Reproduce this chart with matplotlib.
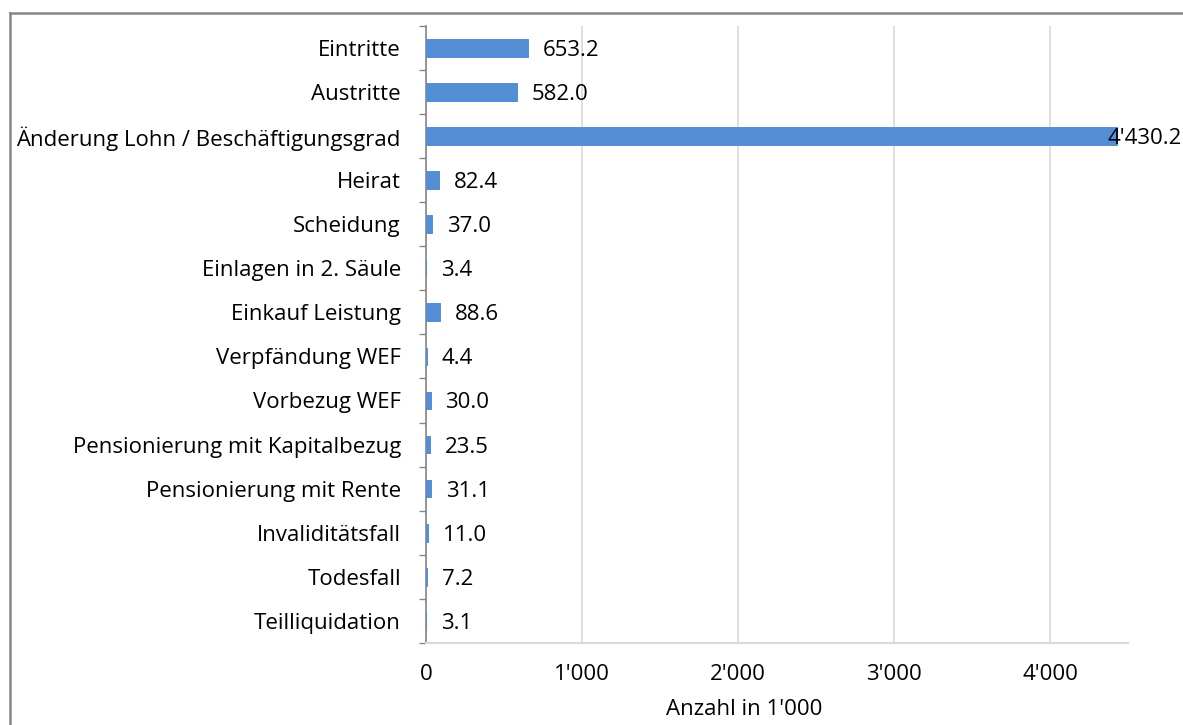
import matplotlib
matplotlib.use("Agg")
import matplotlib.pyplot as plt
from matplotlib.lines import Line2D
from matplotlib.ticker import FuncFormatter, FixedLocator
import numpy as np

# ── data ──────────────────────────────────────────────────────────────
categories = [
    "Eintritte", "Austritte", "Änderung Lohn / Beschäftigungsgrad", "Heirat",
    "Scheidung", "Einlagen in 2. Säule", "Einkauf Leistung", "Verpfändung WEF",
    "Vorbezug WEF", "Pensionierung mit Kapitalbezug", "Pensionierung mit Rente",
    "Invaliditätsfall", "Todesfall", "Teilliquidation",
]
values = [653.2, 582.0, 4430.2, 82.4, 37.0, 3.4, 88.6, 4.4, 30.0, 23.5, 31.1, 11.0, 7.2, 3.1]
x_ticks = [0, 1000, 2000, 3000, 4000]
x_label = "Anzahl in 1'000"

BAR = "#558ed5"
FONT = "Open Sans"
FS = 16


def swiss(v, dec=0):
    s = f"{v:,.{dec}f}"
    return s.replace(",", "'")


fig = plt.figure(figsize=(11.83, 7.25), dpi=100)
ax = fig.add_axes([0.360, 0.1131, 0.5935, 0.8515])

y = np.arange(len(categories))
ax.barh(y, values, height=0.4, color=BAR, edgecolor=BAR, linewidth=0.7, zorder=3)
ax.set_ylim(len(categories) - 0.5, -0.5)
ax.set_xlim(0, 4500)

# value labels, the big one sits over the bar end like in the original
for yi, v in zip(y, values):
    if v > 4000:
        ax.annotate(swiss(v, 1), (v, yi), xytext=(-10, 0), textcoords="offset pixels",
                    va="center_baseline", ha="left", fontsize=FS, family=FONT,
                    annotation_clip=False, zorder=4)
    else:
        ax.annotate(swiss(v, 1), (v, yi), xytext=(15, 0), textcoords="offset pixels",
                    va="center_baseline", ha="left", fontsize=FS, family=FONT, zorder=4)

# y axis: labels at centres, tick marks between categories
ax.set_yticks(y)
ax.set_yticklabels(categories, fontsize=FS, family=FONT)
ax.tick_params(axis="y", which="major", length=0, pad=18)
ax.yaxis.set_minor_locator(FixedLocator(np.arange(-0.5, len(categories), 1.0)))
ax.tick_params(axis="y", which="minor", length=5, width=1, color="#868686", direction="out")

# x axis
ax.set_xticks(x_ticks)
ax.xaxis.set_major_formatter(FuncFormatter(lambda v, p: swiss(v)))
ax.tick_params(axis="x", length=0, pad=15, labelsize=FS)
for lab in ax.get_xticklabels():
    lab.set_family(FONT)
ax.set_xlabel(x_label, fontsize=FS, family=FONT)
ax.xaxis.set_label_coords(0.454, -0.09)

ax.grid(axis="x", color="#d9d9d9", linewidth=1.2, zorder=0)
for s in ("top", "right"):
    ax.spines[s].set_visible(False)
ax.spines["left"].set_color("#868686")
ax.spines["left"].set_linewidth(1.2)
ax.spines["bottom"].set_color("#d9d9d9")
ax.spines["bottom"].set_linewidth(1.5)

# outer chart frame (left and top edges visible in the crop)
W, H = 1183, 725
fig.add_artist(Line2D([10 / W, 10 / W], [0, 1 - 13 / H], color="#868686", lw=1.8))
fig.add_artist(Line2D([10 / W, 1], [1 - 13 / H, 1 - 13 / H], color="#868686", lw=1.8))

fig.savefig("out.png", dpi=100)
